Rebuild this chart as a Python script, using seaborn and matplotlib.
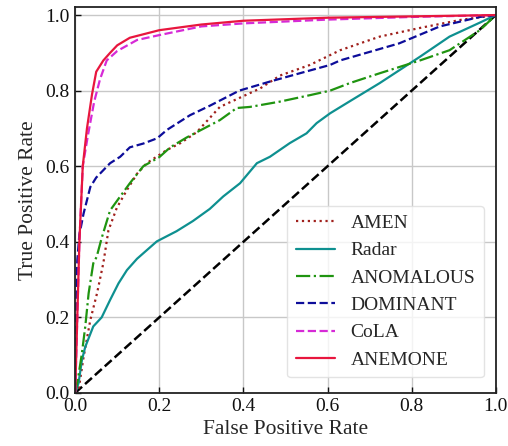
import numpy as np
import pandas as pd
import matplotlib
matplotlib.use("Agg")
import matplotlib.pyplot as plt
import seaborn as sns

# ROC curves (FPR, TPR)
amen_fpr = [0, 0.008, 0.02, 0.036, 0.052, 0.067, 0.079, 0.099, 0.123, 0.147, 0.17, 0.218, 0.25, 0.289,
            0.344, 0.44, 0.487, 0.558, 0.63, 0.724, 0.82, 0.915, 1.0]
amen_tpr = [0, 0.008, 0.095, 0.193, 0.264, 0.344, 0.43, 0.49, 0.537, 0.58, 0.608, 0.643, 0.661, 0.69,
            0.757, 0.806, 0.84, 0.868, 0.907, 0.943, 0.966, 0.987, 1.0]

radar_fpr = [0, 0.008, 0.016, 0.024, 0.043, 0.063, 0.083, 0.103, 0.123, 0.147, 0.194, 0.241, 0.28,
             0.32, 0.352, 0.392, 0.432, 0.463, 0.51, 0.55, 0.574, 0.606, 0.653, 0.724, 0.82, 0.89,
             0.962, 1.0]
radar_tpr = [0, 0.026, 0.087, 0.122, 0.176, 0.2, 0.246, 0.29, 0.325, 0.355, 0.401, 0.428, 0.455,
             0.487, 0.52, 0.555, 0.608, 0.625, 0.661, 0.687, 0.714, 0.74, 0.772, 0.82, 0.89, 0.943,
             0.98, 1.0]

anom_fpr = [0, 0.007, 0.016, 0.024, 0.032, 0.043, 0.051, 0.063, 0.083, 0.107, 0.13, 0.162, 0.2, 0.226,
            0.265, 0.344, 0.384, 0.416, 0.487, 0.558, 0.606, 0.653, 0.724, 0.82, 0.89, 0.962, 1.0]
anom_tpr = [0, 0.04, 0.105, 0.176, 0.264, 0.343, 0.36, 0.41, 0.483, 0.52, 0.555, 0.6, 0.624, 0.65,
            0.676, 0.722, 0.754, 0.757, 0.771, 0.788, 0.80, 0.82, 0.846, 0.88, 0.907, 0.96, 1.0]

dom_fpr = [0, 0.002, 0.005, 0.01, 0.012, 0.02, 0.036, 0.05, 0.083, 0.107, 0.13, 0.162, 0.195, 0.218,
           0.273, 0.32, 0.39, 0.463, 0.534, 0.606, 0.63, 0.77, 0.867, 0.962, 1.0]
dom_tpr = [0, 0.2, 0.35, 0.42, 0.43, 0.475, 0.545, 0.57, 0.608, 0.625, 0.65, 0.66, 0.674, 0.696,
           0.735, 0.76, 0.80, 0.824, 0.846, 0.868, 0.88, 0.925, 0.97, 0.995, 1.0]

cola_fpr = [0, 0.005, 0.01, 0.018, 0.03, 0.045, 0.059, 0.075, 0.1, 0.147, 0.2, 0.3, 0.4, 0.6, 0.8, 1.0]
cola_tpr = [0, 0.2, 0.4, 0.6, 0.68, 0.77, 0.83, 0.88, 0.905, 0.934, 0.947, 0.97, 0.978, 0.988, 0.995, 1.0]

anem_fpr = [0, 0.005, 0.01, 0.018, 0.028, 0.04, 0.05, 0.067, 0.083, 0.1, 0.13, 0.2, 0.3, 0.4, 0.6, 1.0]
anem_tpr = [0, 0.2, 0.4, 0.6, 0.7, 0.79, 0.85, 0.88, 0.9, 0.92, 0.94, 0.96, 0.975, 0.985, 0.993, 1.0]

methods = ['AMEN', 'Radar', 'ANOMALOUS', 'DOMINANT', 'CoLA', 'ANEMONE']
curves = [(amen_fpr, amen_tpr), (radar_fpr, radar_tpr), (anom_fpr, anom_tpr),
          (dom_fpr, dom_tpr), (cola_fpr, cola_tpr), (anem_fpr, anem_tpr)]
colors = ['#a0201c', '#0e9090', '#1f9410', '#0d0d9a', '#d62ad6', '#e8163e']
styles = [':', '-', '-.', '--', '--', '-']

sns.set_style("whitegrid")
plt.rcParams['font.family'] = ['Liberation Serif', 'DejaVu Serif']

fig, ax = plt.subplots(figsize=(5.08, 4.46), dpi=100)
fig.subplots_adjust(left=0.148, right=0.976, bottom=0.119, top=0.984)

diag = pd.DataFrame({'fpr': [0, 1], 'tpr': [0, 1]})
sns.lineplot(data=diag, x='fpr', y='tpr', ax=ax, color='k', linestyle='--', lw=1.8, estimator=None)

for name, (fx, ty), c, ls in zip(methods, curves, colors, styles):
    df = pd.DataFrame({'fpr': fx, 'tpr': ty})
    sns.lineplot(data=df, x='fpr', y='tpr', ax=ax, color=c, linestyle=ls, lw=1.6,
                 label=name, estimator=None, sort=False)

ax.set_xlim(0, 1)
ax.set_ylim(0, 1.021)
ax.set_xticks(np.arange(0, 1.01, 0.2))
ax.set_yticks(np.arange(0, 1.01, 0.2))
ax.set_xlabel('False Positive Rate', fontsize=15.5, labelpad=3)
ax.set_ylabel('True Positive Rate', fontsize=15.5, labelpad=5)
ax.tick_params(direction='in', labelsize=14, length=4, width=1, pad=4,
               left=True, bottom=True, colors='#111111')
ax.grid(True, color='#c8c8c8', lw=1)
for s in ax.spines.values():
    s.set_color('#222222')
    s.set_linewidth(1.3)

leg = ax.legend(loc='lower right', fontsize=14, frameon=True, handlelength=2.0,
                borderpad=0.45, labelspacing=0.5, handletextpad=0.8,
                bbox_to_anchor=(0.995, 0.015))
leg.get_frame().set_edgecolor('#dddddd')

fig.savefig('out.png', dpi=100)
